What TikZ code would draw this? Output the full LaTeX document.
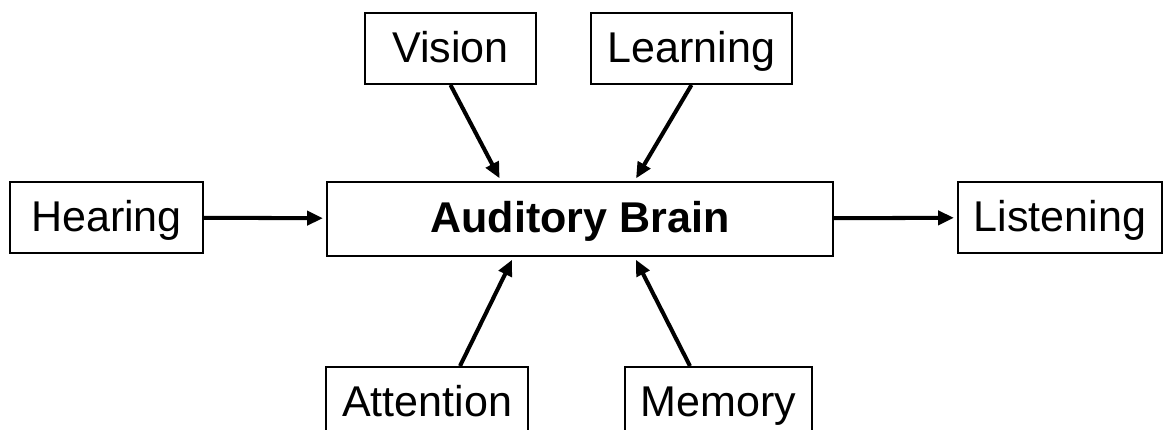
\documentclass[tikz,border=0pt]{standalone}
\usepackage{fontspec}
\setmainfont{Liberation Sans}
\usetikzlibrary{arrows.meta}
\tikzset{every node/.style={align=center}}
\tikzstyle{box} = [draw, line width=1.1pt, minimum height=1.42cm, inner sep=0pt, text height=0.68cm, text depth=0.12cm, font=\fontsize{24.5}{29}\selectfont]
\tikzstyle{link} = [line width=2.3pt, -{Triangle[length=0.32cm, width=0.28cm]}, shorten >=0.06cm]

\begin{document}
\begin{tikzpicture}
		\clip (0,0) rectangle (23.28,8.6);
		
		% Centre
		\node[box, minimum width=10.12cm, minimum height=1.48cm] (brain) at (11.6,4.22) {\textbf{Auditory Brain}};
		
		%% Left and right
		\node[box, minimum width=3.86cm] (hearing) at (2.13,4.25) {Hearing};
		\node[box, minimum width=4.08cm] (listening) at (21.2,4.25) {Listening};
		
		%% Top
		\node[box, minimum width=3.42cm] (vision) at (9.01,7.63) {Vision};
		\node[box, minimum width=4.02cm] (learning) at (13.83,7.63) {Learning};
		
		%% Bottom
		\node[box, minimum width=4.04cm] (attention) at (8.54,0.55) {Attention};
		\node[box, minimum width=3.74cm] (memory) at (14.37,0.55) {Memory};
		
		% Arrows
		\draw[link] (hearing) -- (brain);
		\draw[link] (brain) -- (listening);
		\draw[link] (vision.south) -- ([xshift=-1.58cm]brain.north);
		\draw[link] (learning.south) -- ([xshift=1.09cm]brain.north);
		\draw[link] ([xshift=0.66cm]attention.north) -- ([xshift=-1.33cm]brain.south);
		\draw[link] ([xshift=-0.57cm]memory.north) -- ([xshift=1.09cm]brain.south);
	\end{tikzpicture}
\end{document}
